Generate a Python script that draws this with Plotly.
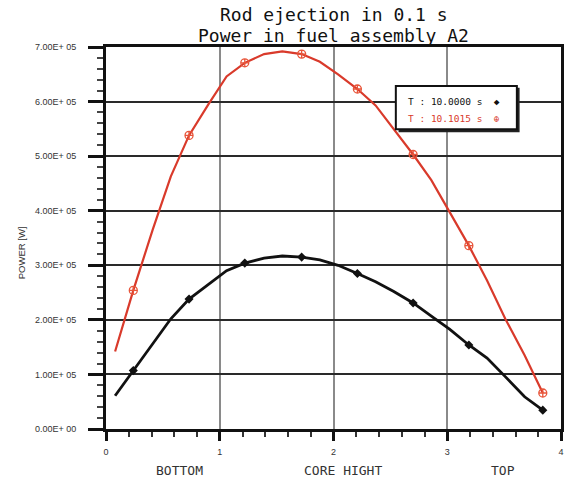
import plotly.graph_objects as go

# ---- data ----
core_height = [0.08, 0.24, 0.41, 0.57, 0.73, 0.90, 1.06, 1.22, 1.39, 1.55, 1.72, 1.88,
               2.04, 2.21, 2.37, 2.53, 2.70, 2.86, 3.02, 3.19, 3.35, 3.51, 3.68, 3.84]
power_t0 = [0.61e5, 1.07e5, 1.57e5, 2.02e5, 2.38e5, 2.65e5, 2.90e5, 3.04e5, 3.13e5, 3.17e5,
            3.15e5, 3.10e5, 3.00e5, 2.85e5, 2.70e5, 2.52e5, 2.31e5, 2.07e5, 1.83e5, 1.54e5,
            1.30e5, 0.96e5, 0.59e5, 0.345e5]
power_t1 = [1.42e5, 2.54e5, 3.65e5, 4.63e5, 5.38e5, 5.95e5, 6.46e5, 6.71e5, 6.87e5, 6.92e5,
            6.87e5, 6.73e5, 6.50e5, 6.23e5, 5.93e5, 5.50e5, 5.03e5, 4.56e5, 3.97e5, 3.36e5,
            2.72e5, 2.02e5, 1.35e5, 0.66e5]
marker_idx = [1, 4, 7, 10, 13, 16, 19, 23]
series_names = ["T : 10.0000 s", "T : 10.1015 s"]
title_lines = ["Rod ejection in 0.1 s", "Power in fuel assembly A2"]
y_tickvals = [0, 1e5, 2e5, 3e5, 4e5, 5e5, 6e5, 7e5]
y_ticktext = ["0.00E+ 00", "1.00E+ 05", "2.00E+ 05", "3.00E+ 05",
              "4.00E+ 05", "5.00E+ 05", "6.00E+ 05", "7.00E+ 05"]
x_tickvals = [0, 1, 2, 3, 4]
x_ticktext = ["0", "1", "2", "3", "4"]
x_region_labels = ["BOTTOM", "CORE HIGHT", "TOP"]
x_region_pos = [0.65, 2.08, 3.49]

BLACK = "#111111"
RED = "#d93a2b"
MONO = "DejaVu Sans Mono"

fig = go.Figure()
fig.add_trace(go.Scatter(x=core_height, y=power_t1, mode="lines",
                         line=dict(color=RED, width=2.2), name=series_names[1]))
fig.add_trace(go.Scatter(x=[core_height[i] for i in marker_idx],
                         y=[power_t1[i] for i in marker_idx], mode="markers",
                         marker=dict(symbol="circle-cross-open", size=8,
                                     color="#e8553a", line=dict(width=1.3)),
                         name=series_names[1]))
fig.add_trace(go.Scatter(x=core_height, y=power_t0, mode="lines",
                         line=dict(color=BLACK, width=2.8), name=series_names[0]))
fig.add_trace(go.Scatter(x=[core_height[i] for i in marker_idx],
                         y=[power_t0[i] for i in marker_idx], mode="markers",
                         marker=dict(symbol="diamond", size=7, color=BLACK),
                         name=series_names[0]))

fig.update_layout(
    width=565, height=484,
    margin=dict(l=106, r=4, t=47, b=55, autoexpand=False),
    paper_bgcolor="white", plot_bgcolor="white",
    showlegend=False,
    font=dict(family="Liberation Sans", color="#333333"),
)
fig.update_xaxes(range=[0, 4], tickvals=x_tickvals, ticktext=x_ticktext,
                 automargin=False,
                 showgrid=True, gridcolor="#8a8a8a", gridwidth=1.5,
                 showline=True, linecolor="#111111", linewidth=3, mirror=True,
                 ticks="outside", ticklen=9, tickwidth=3, tickcolor="#111111",
                 tickfont=dict(size=9, color="#333333"), ticklabelstandoff=3,
                 minor=dict(dtick=0.2, ticks="outside", ticklen=5, tickwidth=1.5,
                            tickcolor="#333333", showgrid=False),
                 zeroline=False)
fig.update_yaxes(range=[0, 7e5], tickvals=y_tickvals, ticktext=y_ticktext,
                 automargin=False,
                 showgrid=True, gridcolor="#2a2a2a", gridwidth=1.5,
                 showline=True, linecolor="#111111", linewidth=3, mirror=True,
                 ticks="outside", ticklen=15, tickwidth=3, tickcolor="#111111",
                 tickfont=dict(size=9, color="#333333"), ticklabelstandoff=10,
                 minor=dict(dtick=2e4, ticks="outside", ticklen=6, tickwidth=1.5,
                            tickcolor="#444444", showgrid=False),
                 zeroline=False)

# title (two lines)
for line, ypx in zip(title_lines, [15, 35]):
    fig.add_annotation(text=line, xref="paper", yref="paper",
                       x=0.5, y=(429 - ypx) / 382, xanchor="center", yanchor="middle",
                       showarrow=False, font=dict(family=MONO, size=18, color="#111111"))
# axis title
fig.add_annotation(text="POWER [W]", xref="paper", yref="paper",
                   x=(21 - 106) / 455, y=0.46, xanchor="center", yanchor="middle",
                   textangle=-90, showarrow=False,
                   font=dict(family="Liberation Sans", size=9.5, color="#333333"))
# region labels
for lab, pos in zip(x_region_labels, x_region_pos):
    fig.add_annotation(text=lab, xref="x", yref="paper", x=pos, y=(429 - 470) / 382,
                       yanchor="middle", showarrow=False,
                       font=dict(family=MONO, size=13, color="#333333"))

# legend box with shadow
fig.add_shape(type="rect", xref="paper", yref="paper",
              x0=0.643, x1=0.909, y0=0.777, y1=0.893,
              fillcolor="#222222", line=dict(width=0), layer="above")
fig.add_shape(type="rect", xref="paper", yref="paper",
              x0=0.637, x1=0.903, y0=0.785, y1=0.898,
              fillcolor="white", line=dict(color="#111111", width=2), layer="above")
fig.add_annotation(text=series_names[0] + "  \u25c6", xref="paper", yref="paper",
                   x=(406 - 106) / 455, y=(429 - 102) / 382, xanchor="left",
                   yanchor="middle", showarrow=False,
                   font=dict(family=MONO, size=9.5, color=BLACK))
fig.add_annotation(text=series_names[1] + "  \u2295", xref="paper", yref="paper",
                   x=(406 - 106) / 455, y=(429 - 118) / 382, xanchor="left",
                   yanchor="middle", showarrow=False,
                   font=dict(family=MONO, size=9.5, color=RED))

fig.write_html("out.html", config={"displayModeBar": False},
               post_script="document.body.style.margin='0px';"
                           "document.body.style.overflow='hidden';")
